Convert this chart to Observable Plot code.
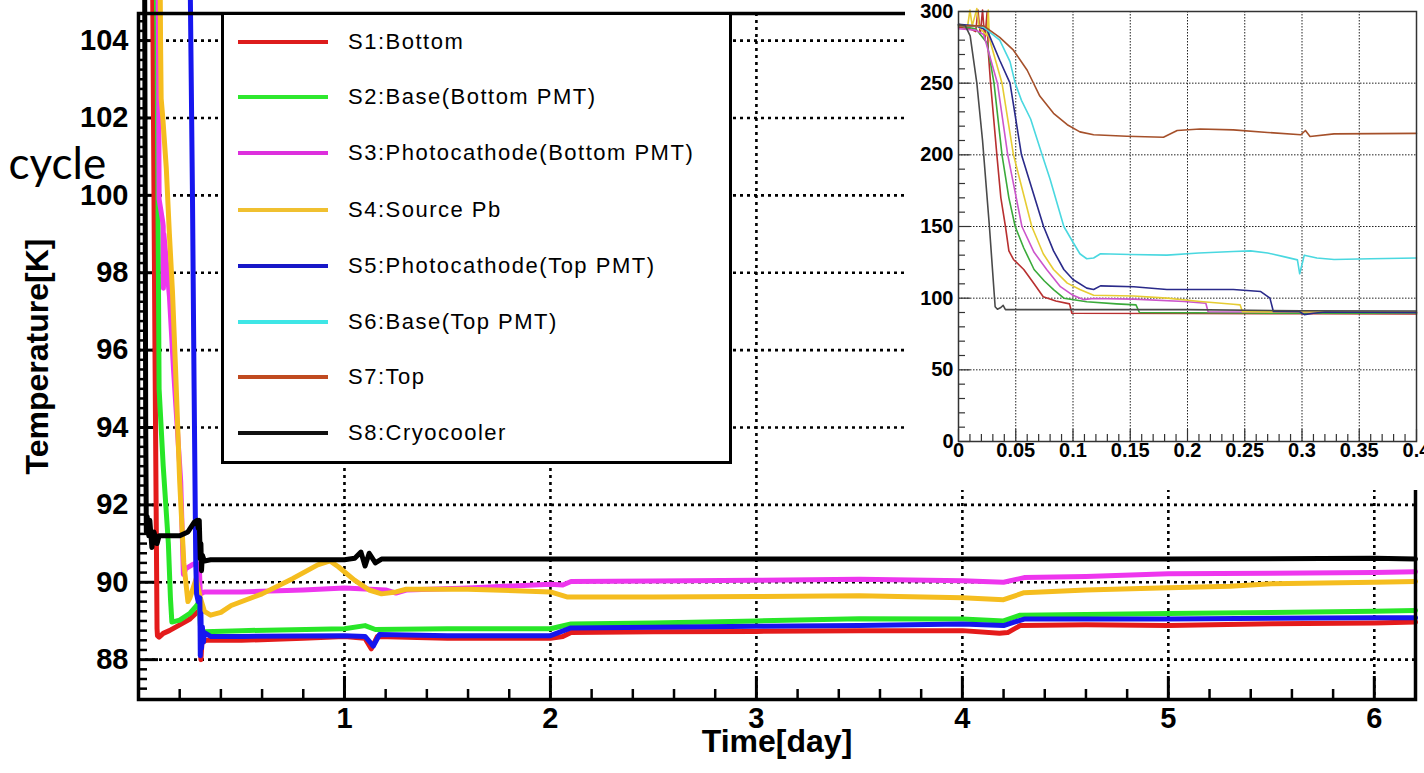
<!DOCTYPE html>
<html><head><meta charset="utf-8">
<script src="https://cdn.jsdelivr.net/npm/d3@7"></script>
<script src="https://cdn.jsdelivr.net/npm/@observablehq/plot@0.6"></script>
<style>
html,body{margin:0;padding:0;background:#fff;}
#wrap{position:relative;width:1424px;height:773px;overflow:hidden;font-family:"Liberation Sans",Arial,sans-serif;}
#main{position:absolute;left:0;top:0;}
#inset{position:absolute;left:905px;top:0;}
#legend{position:absolute;left:221px;top:12px;width:511px;height:452px;border:3px solid #000;box-sizing:border-box;background:#fff;}
.row{position:absolute;left:0;width:100%;height:30px;}
.sw{position:absolute;left:14px;top:13px;width:90px;height:4px;}
.lb{position:absolute;left:124px;top:0;font-size:22px;letter-spacing:1.5px;white-space:nowrap;line-height:30px;color:#000;}
</style></head>
<body><div id="wrap"><div id="main"></div><div id="legend"></div><div id="inset"></div></div>
<script>
// ---------- categories ----------
const seriesNames = ["S1:Bottom","S2:Base(Bottom PMT)","S3:Photocathode(Bottom PMT)","S4:Source Pb","S5:Photocathode(Top PMT)","S6:Base(Top PMT)","S7:Top","S8:Cryocooler"];
const mainColors  = ["#e41b1b","#28e628","#ee36ee","#f5bd1f","#1616ee","#33e6e6","#c04a20","#000000"];
const legendColors= ["#dd1c1c","#2ee82e","#dd2fdd","#f0c030","#1818c8","#3ee6e6","#c04a20","#111111"];
const insetColors = ["#b83030","#3aaa3a","#cc55cc","#e6cc33","#2a2a8a","#4ad8e0","#a5502a","#4a4a4a"];

// ---------- tick labels ----------
const xTickLabels = [1,2,3,4,5,6];
const yTickLabels = [88,90,92,94,96,98,100,102,104];
const insetXTickLabels = [0,0.05,0.1,0.15,0.2,0.25,0.3,0.35,0.4];
const insetYTickLabels = [0,50,100,150,200,250,300];

// ---------- main chart series: [day, K] ----------
const s1Main = [[0.068,106],[0.08,96],[0.09,88.8],[0.092,88.62],[0.1,88.58],[0.12,88.68],[0.15,88.75],[0.2,88.9],[0.25,89.05],[0.29,89.25],[0.3,89.3],[0.303,88.0],[0.308,88.45],[0.33,88.5],[0.5,88.5],[0.8,88.55],[1.0,88.6],[1.1,88.55],[1.13,88.28],[1.16,88.6],[1.5,88.55],[2.0,88.55],[2.06,88.6],[2.1,88.7],[2.5,88.72],[3.0,88.73],[3.5,88.75],[4.0,88.75],[4.18,88.68],[4.22,88.7],[4.28,88.88],[4.6,88.9],[5.0,88.88],[5.5,88.93],[6.0,88.95],[6.2,88.97]];
const s2Main = [[0.075,110],[0.09,104],[0.1,95],[0.12,93],[0.145,91.0],[0.155,89.6],[0.162,88.97],[0.2,89.02],[0.25,89.2],[0.28,89.38],[0.295,89.5],[0.302,88.75],[0.32,88.72],[0.5,88.75],[1.0,88.8],[1.1,88.88],[1.15,88.78],[1.5,88.8],[2.0,88.8],[2.1,88.92],[2.5,88.95],[3.0,89.0],[3.5,89.06],[4.0,89.05],[4.2,89.0],[4.28,89.15],[4.6,89.17],[5.0,89.19],[5.5,89.22],[6.0,89.25],[6.2,89.27]];
const s3Main = [[0.09,110],[0.098,103],[0.1,99.9],[0.118,99.3],[0.12,99.2],[0.121,97.6],[0.123,99.0],[0.13,98.6],[0.15,97.4],[0.17,95.5],[0.205,92.6],[0.218,90.2],[0.23,90.35],[0.26,90.45],[0.28,90.5],[0.295,90.45],[0.3,89.7],[0.32,89.75],[0.5,89.75],[0.8,89.8],[1.0,89.85],[1.2,89.8],[1.25,89.72],[1.3,89.8],[1.6,89.85],[2.0,89.95],[2.06,89.93],[2.1,90.02],[2.5,90.03],[3.0,90.05],[3.5,90.08],[4.0,90.04],[4.2,90.0],[4.3,90.12],[4.6,90.15],[5.0,90.22],[5.5,90.23],[6.0,90.25],[6.2,90.27]];
const s4Main = [[0.1,110],[0.107,104],[0.11,102.5],[0.118,102],[0.135,100.7],[0.15,99.0],[0.165,97.5],[0.18,95.5],[0.2,92.6],[0.22,90.5],[0.24,89.5],[0.25,89.6],[0.28,90.1],[0.3,89.6],[0.32,89.25],[0.35,89.15],[0.4,89.22],[0.45,89.4],[0.6,89.7],[0.75,90.1],[0.87,90.45],[0.93,90.55],[0.97,90.4],[1.05,90.05],[1.12,89.8],[1.18,89.7],[1.25,89.75],[1.3,89.82],[1.6,89.82],[2.0,89.75],[2.08,89.62],[2.5,89.62],[3.0,89.63],[3.5,89.65],[4.0,89.6],[4.2,89.55],[4.3,89.73],[4.6,89.8],[5.0,89.86],[5.3,89.9],[5.5,89.96],[6.0,90.0],[6.2,90.02]];
const s5Main = [[0.25,106],[0.262,100],[0.27,95],[0.278,90.5],[0.282,89.7],[0.29,89.5],[0.298,89.6],[0.3,88.1],[0.303,89.2],[0.306,88.3],[0.31,88.85],[0.315,88.45],[0.32,88.7],[0.35,88.6],[0.5,88.6],[1.0,88.62],[1.1,88.6],[1.14,88.35],[1.17,88.65],[1.5,88.62],[2.0,88.62],[2.1,88.82],[2.5,88.84],[3.0,88.86],[3.5,88.88],[4.0,88.92],[4.2,88.88],[4.3,89.05],[4.6,89.05],[5.0,89.05],[5.5,89.07],[6.0,89.08],[6.2,89.08]];
const s6Main = [];
const s7Main = [];
const s8Main = [[0.028,110],[0.035,94],[0.038,91.3],[0.042,91.7],[0.05,91.2],[0.055,91.6],[0.065,90.9],[0.075,91.3],[0.09,91.0],[0.1,91.2],[0.15,91.2],[0.2,91.2],[0.24,91.3],[0.27,91.55],[0.285,91.6],[0.29,91.4],[0.295,91.6],[0.3,90.6],[0.303,91.0],[0.306,90.3],[0.31,90.7],[0.32,90.55],[0.35,90.58],[0.5,90.58],[1.0,90.58],[1.05,90.62],[1.08,90.78],[1.1,90.42],[1.12,90.75],[1.15,90.5],[1.18,90.6],[2.0,90.6],[3.0,90.6],[4.0,90.6],[5.0,90.6],[6.0,90.62],[6.2,90.6]];

// ---------- inset series: [day, K] ----------
const s1Inset = [[0,289],[0.01,288],[0.015,286],[0.017,301],[0.019,284],[0.021,301],[0.023,280],[0.025,300],[0.026,272],[0.028,250],[0.0335,200],[0.037,170],[0.041,150],[0.044,133],[0.048,127],[0.057,120],[0.066,110],[0.074,101],[0.085,98],[0.097,96],[0.099,89.5],[0.2,89.3],[0.3,89.2],[0.4,89]];
const s2Inset = [[0,290],[0.015,288],[0.025,278],[0.031,250],[0.038,200],[0.044,170],[0.0495,150],[0.057,135],[0.066,120],[0.075,112],[0.083,106],[0.092,100],[0.112,97.5],[0.138,96],[0.155,95.3],[0.158,90],[0.25,89.6],[0.3,89.5],[0.4,89.5]];
const s3Inset = [[0,288],[0.015,287],[0.022,284],[0.034,250],[0.043,200],[0.0554,150],[0.066,132],[0.077,120],[0.089,108],[0.1,102],[0.109,99],[0.118,99.8],[0.153,99.3],[0.197,97.7],[0.216,96.5],[0.218,90.5],[0.3,90.3],[0.4,90]];
const s4Inset = [[0,290],[0.008,290],[0.01,301],[0.012,290],[0.016,302],[0.018,289],[0.025,283],[0.026,301],[0.027,281],[0.038,250],[0.048,200],[0.064,150],[0.074,131],[0.083,120],[0.095,110.5],[0.106,106],[0.118,102],[0.153,101.5],[0.182,100],[0.211,97.7],[0.24,95.8],[0.246,95.3],[0.248,90.5],[0.4,90.3]];
const s5Inset = [[0,291],[0.015,290],[0.025,287],[0.036,266],[0.045,250],[0.055,200],[0.0743,150],[0.083,133],[0.092,120],[0.1,113],[0.112,107],[0.118,106],[0.124,108.6],[0.153,108],[0.182,106],[0.24,106],[0.264,104.6],[0.272,100],[0.275,90.7],[0.298,90.5],[0.302,88.5],[0.31,89.5],[0.32,90.3],[0.4,90]];
const s6Inset = [[0,290],[0.015,290],[0.022,289],[0.036,280],[0.045,265],[0.0495,250],[0.055,238],[0.063,225],[0.073,200],[0.08,183],[0.092,150],[0.1,139],[0.106,131],[0.112,127.5],[0.118,128],[0.124,131],[0.15,130.5],[0.182,130],[0.21,131.5],[0.24,132.6],[0.255,133],[0.27,131.5],[0.284,129],[0.296,126.7],[0.298,117],[0.302,130],[0.313,128],[0.328,127],[0.36,127.5],[0.4,128]];
const s7Inset = [[0,290],[0.022,290],[0.036,282],[0.048,273],[0.06,259],[0.071,241],[0.083,229],[0.095,221],[0.106,216],[0.118,214],[0.147,213],[0.179,212.3],[0.191,217],[0.211,218],[0.24,217.4],[0.27,215.6],[0.299,214],[0.303,217],[0.307,212.8],[0.328,214.6],[0.4,215]];
const s8Inset = [[0,291],[0.006,290],[0.0102,283],[0.016,250],[0.021,210],[0.027,150],[0.032,94],[0.034,92.3],[0.037,93.5],[0.039,95],[0.041,92],[0.06,92],[0.1,92],[0.2,92],[0.3,91.2],[0.4,91]];

// ---------- build tables ----------
const mainSeries  = [s1Main,s2Main,s3Main,s4Main,s5Main,s6Main,s7Main,s8Main];
const insetSeries = [s1Inset,s2Inset,s3Inset,s4Inset,s5Inset,s6Inset,s7Inset,s8Inset];
const toRows = list => list.flatMap((arr,i)=>arr.map(([t,T])=>({t,T,s:seriesNames[i]})));
const mainRows = toRows(mainSeries);
const insetRows = toRows(insetSeries);

// ---------- main chart ----------
const W=1424, H=773, mL=138, mT=13, mR=9, mB=74;
const pw=W-mL-mR, ph=H-mT-mB;
const yMinor = d3.range(87.25, 104.7, 0.25).filter(v => Math.abs(v/2-Math.round(v/2))>1e-6);
const xMinor = d3.range(0.2, 6.21, 0.2).filter(v => Math.abs(v-Math.round(v))>1e-6);
const font = "'Liberation Sans', Arial, Helvetica, sans-serif";

const main = Plot.plot({
  width: W, height: H, marginLeft: mL, marginTop: mT, marginRight: mR, marginBottom: mB,
  x: {domain: [0, 6.2], axis: null},
  y: {domain: [86.97, 104.7], axis: null},
  color: {domain: seriesNames, range: mainColors},
  style: {fontFamily: font, background: "white"},
  marks: [
    Plot.ruleY(yTickLabels, {y: d=>d, stroke: "#000", strokeWidth: 2.6, strokeDasharray: "3,4"}),
    Plot.ruleX(xTickLabels, {x: d=>d, stroke: "#000", strokeWidth: 2.6, strokeDasharray: "3,4"}),
    Plot.tickY(yMinor, {y: d=>d, insetRight: pw-9, stroke: "#000", strokeWidth: 2.5}),
    Plot.tickY(yTickLabels, {y: d=>d, insetRight: pw-20, stroke: "#000", strokeWidth: 3}),
    Plot.tickX(xMinor, {x: d=>d, insetTop: ph-10, stroke: "#000", strokeWidth: 2.5}),
    Plot.tickX(xTickLabels, {x: d=>d, insetTop: ph-23, stroke: "#000", strokeWidth: 3}),
    Plot.line(mainRows, {x: "t", y: "T", z: "s", stroke: "s", strokeWidth: 5, strokeLinejoin: "round"}),
    Plot.frame({stroke: "#000", strokeWidth: 3.5}),
    Plot.axisX(xTickLabels, {tickSize: 0, tickPadding: 8, fontSize: 29, fontWeight: "bold", label: null, tickFormat: d => String(d)}),
    Plot.axisY(yTickLabels, {tickSize: 0, tickPadding: 10, fontSize: 29, fontWeight: "bold", label: null, tickFormat: d => String(d)}),
    Plot.text(["Temperature[K]"], {text: d=>d, frameAnchor: "left", textAnchor: "middle", dx: -101, rotate: -90, fontSize: 32, fontWeight: "bold"}),
    Plot.text(["Time[day]"], {text: d=>d, frameAnchor: "bottom", textAnchor: "middle", dy: 52, fontSize: 32, fontWeight: "bold"}),
    Plot.text(["cycle"], {text: d=>d, frameAnchor: "top-left", dx: -130, dy: 165, textAnchor: "start", lineAnchor: "bottom", fontSize: 44, fontFamily: "Lato, 'Open Sans', sans-serif"})
  ]
});
document.getElementById("main").appendChild(main);

// ---------- legend ----------
const legend = document.getElementById("legend");
const rowCenters = [42, 97, 153, 210, 266, 322, 377, 433];
seriesNames.forEach((name, i) => {
  const row = document.createElement("div");
  row.className = "row";
  row.style.top = (rowCenters[i] - 30) + "px";
  const sw = document.createElement("div");
  sw.className = "sw"; sw.style.background = legendColors[i];
  const lb = document.createElement("div");
  lb.className = "lb"; lb.textContent = name;
  row.appendChild(sw); row.appendChild(lb);
  legend.appendChild(row);
});

// ---------- inset ----------
const iW=519, iH=490, iL=53, iT=11, iR=8, iB=49;
const ipw=iW-iL-iR, iph=iH-iT-iB;
const ixMinor = d3.range(0.01, 0.4, 0.01).filter(v => Math.abs(v/0.05-Math.round(v/0.05))>1e-6);
const iyMinor = d3.range(10, 300, 10).filter(v => v % 50 !== 0);
const inset = Plot.plot({
  width: iW, height: iH, marginLeft: iL, marginTop: iT, marginRight: iR, marginBottom: iB,
  x: {domain: [0, 0.4], axis: null},
  y: {domain: [0, 300], axis: null},
  color: {domain: seriesNames, range: insetColors},
  style: {fontFamily: font, background: "white"},
  marks: [
    Plot.ruleY(insetYTickLabels.slice(1), {y: d=>d, stroke: "#222", strokeWidth: 1, strokeDasharray: "1.5,1.5"}),
    Plot.ruleX(insetXTickLabels.slice(1), {x: d=>d, stroke: "#222", strokeWidth: 1, strokeDasharray: "1.5,1.5"}),
    Plot.tickX(ixMinor, {x: d=>d, insetTop: iph-7, stroke: "#333", strokeWidth: 1.2}),
    Plot.tickX(insetXTickLabels, {x: d=>d, insetTop: iph-12, stroke: "#333", strokeWidth: 1.2}),
    Plot.tickY(iyMinor, {y: d=>d, insetRight: ipw-7, stroke: "#333", strokeWidth: 1.2}),
    Plot.tickY(insetYTickLabels, {y: d=>d, insetRight: ipw-12, stroke: "#333", strokeWidth: 1.2}),
    Plot.line(insetRows, {x: "t", y: "T", z: "s", stroke: "s", strokeWidth: 1.6}),
    Plot.frame({stroke: "#333", strokeWidth: 1.5}),
    Plot.axisX(insetXTickLabels, {tickSize: 0, tickPadding: 1, fontSize: 20, fontWeight: "bold", label: null, tickFormat: d => String(d)}),
    Plot.axisY(insetYTickLabels, {tickSize: 0, tickPadding: 5, fontSize: 20, fontWeight: "bold", label: null, tickFormat: d => String(d)})
  ]
});
document.getElementById("inset").appendChild(inset);
</script>
</body></html>
